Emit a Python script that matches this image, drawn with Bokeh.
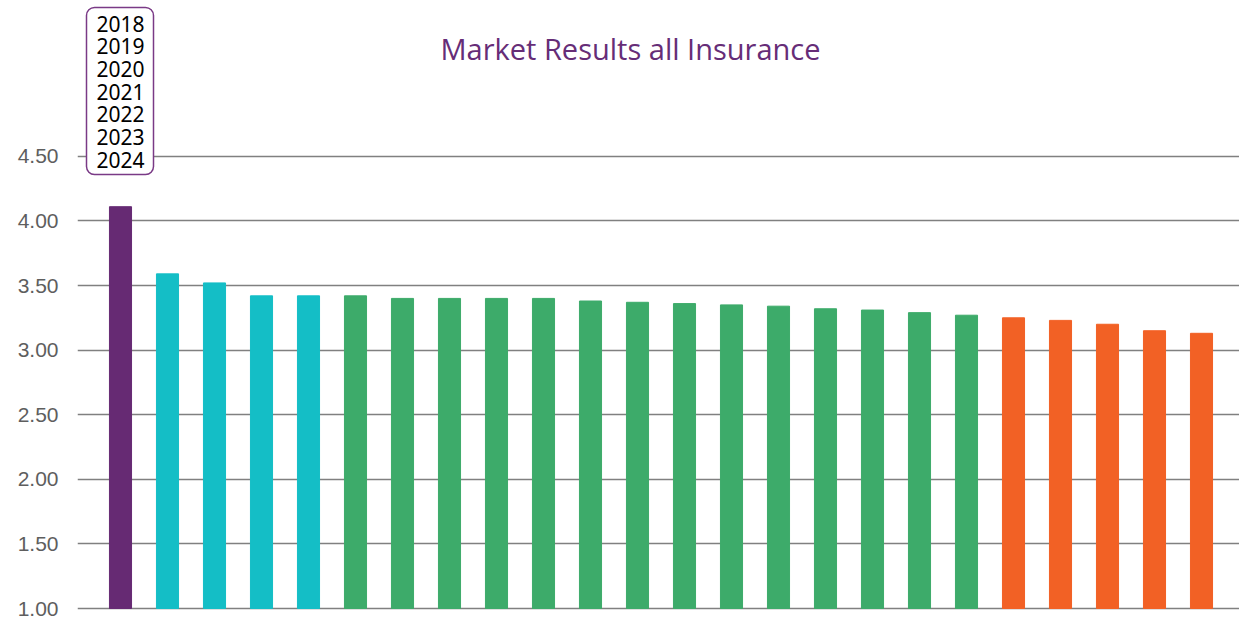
import numpy as np
from bokeh.plotting import figure
from bokeh.models import (Range1d, FixedTicker, NumeralTickFormatter, BoxAnnotation,
                          ColumnDataSource, Label)
from bokeh.embed import file_html
from bokeh.resources import INLINE

# ---------------- data ----------------
categories = [f"Company {i+1}" for i in range(24)]
scores = [4.11, 3.59, 3.52, 3.42, 3.42, 3.42, 3.40, 3.40, 3.40, 3.40, 3.38, 3.37,
          3.36, 3.35, 3.34, 3.32, 3.31, 3.29, 3.27, 3.25, 3.23, 3.20, 3.15, 3.13]
groups = ["top"] + ["high"] * 4 + ["mid"] * 14 + ["low"] * 5
legend_years = ["2018", "2019", "2020", "2021", "2022", "2023", "2024"]
y_ticks = [1.0, 1.5, 2.0, 2.5, 3.0, 3.5, 4.0, 4.5]
title_text = "Market Results all Insurance"

group_colors = {"top": "#662a73", "high": "#14bec6", "mid": "#3dab6a", "low": "#f26125"}

# ---------------- figure ----------------
W, H = 1239, 621
PX_PER_UNIT = 129.2
BOTTOM_BORDER = 10
y_start = 1.0 - 3 / PX_PER_UNIT
y_end = y_start + (H - BOTTOM_BORDER) / PX_PER_UNIT


def ypix(py):
    """page pixel row -> data value"""
    return 1.0 + (608 - py) / PX_PER_UNIT


def xpix(px):
    return (px - 120) / 47.0


p = figure(width=W, height=H, output_backend="svg", toolbar_location=None,
           x_range=Range1d(xpix(77), xpix(W)), y_range=Range1d(y_start, y_end),
           x_axis_location=None, tools="")
p.min_border_left = 77
p.min_border_right = 0
p.min_border_top = 0
p.min_border_bottom = BOTTOM_BORDER
p.outline_line_color = None
p.background_fill_color = "white"
p.border_fill_color = "white"

src = ColumnDataSource(dict(
    x=np.arange(len(categories)),
    top=scores,
    name=categories,
    color=[group_colors[g] for g in groups],
))
p.vbar(x="x", top="top", bottom=1.0, width=0.47, color="color", source=src)

# axes / grid
p.xgrid.grid_line_color = None
p.ygrid.ticker = FixedTicker(ticks=y_ticks)
p.ygrid.grid_line_color = "#808080"
p.ygrid.grid_line_width = 1.6
ax = p.yaxis[0]
ax.ticker = FixedTicker(ticks=y_ticks)
ax.formatter = NumeralTickFormatter(format="0.00")
ax.axis_line_color = None
ax.major_tick_line_color = None
ax.minor_tick_line_color = None
ax.major_tick_out = 0
ax.major_label_standoff = 19
ax.major_label_text_font = "Liberation Sans"
ax.major_label_text_font_size = "21px"
ax.major_label_text_color = "#5e5e5e"

# title
p.add_layout(Label(x=xpix(630), y=ypix(48), text=title_text,
                   text_font="Open Sans", text_font_size="29px", text_color="#662d77",
                   text_align="center", text_baseline="middle"))

# legend-like box with years
box = BoxAnnotation(left=xpix(86), right=xpix(153), top=ypix(7),
                    bottom=ypix(174),
                    fill_color="white", fill_alpha=1.0,
                    line_color="#7a3a86", line_alpha=1.0, line_width=1.5,
                    border_radius=8)
p.add_layout(box)
for i, yr in enumerate(legend_years):
    p.add_layout(Label(x=0, y=ypix(23 + i * 22.7), text=yr,
                       text_font="Noto Sans", text_font_size="21px",
                       text_color="black", text_align="center", text_baseline="middle"))

open("out.html", "w").write(file_html(p, INLINE))
